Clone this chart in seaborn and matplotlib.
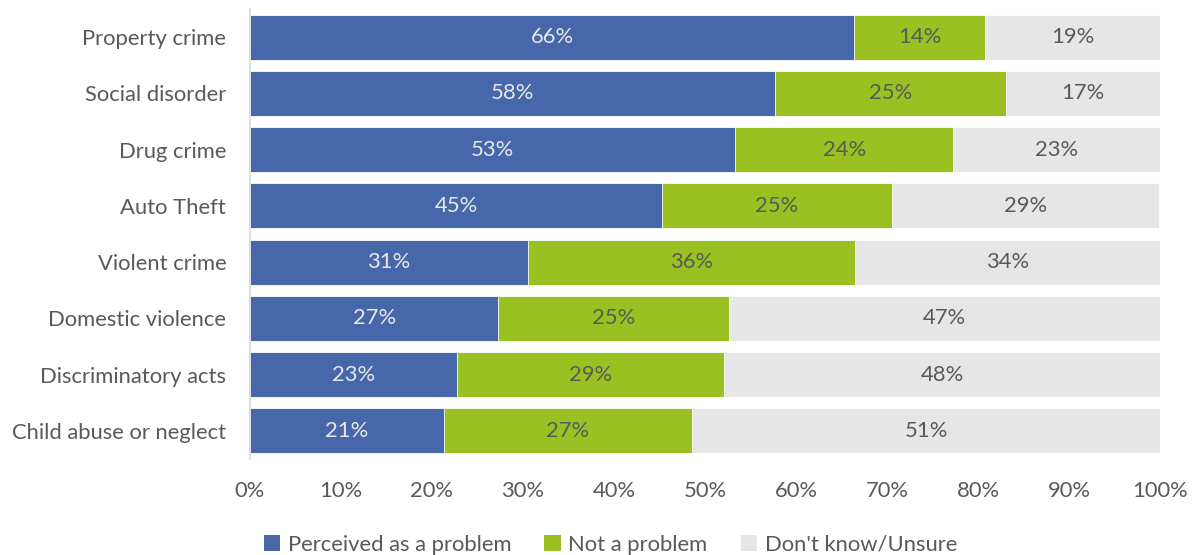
import matplotlib
matplotlib.use("Agg")
import matplotlib.pyplot as plt
import seaborn as sns
import pandas as pd
import numpy as np
from matplotlib.patches import Patch

categories = ["Property crime", "Social disorder", "Drug crime", "Auto Theft",
              "Violent crime", "Domestic violence", "Discriminatory acts",
              "Child abuse or neglect"]
problem = [66.4, 57.7, 53.3, 45.3, 30.6, 27.3, 22.7, 21.3]
not_problem = [14.4, 25.4, 24.0, 25.2, 35.9, 25.3, 29.4, 27.3]
unsure = [19.2, 16.9, 22.7, 29.4, 33.6, 47.4, 47.9, 51.4]
series_names = ["Perceived as a problem", "Not a problem", "Don't know/Unsure"]
x_ticks = [0, 10, 20, 30, 40, 50, 60, 70, 80, 90, 100]
x_tick_labels = ["0%", "10%", "20%", "30%", "40%", "50%", "60%", "70%", "80%", "90%", "100%"]

colors = ["#4667A9", "#9AC121", "#E6E6E6"]
text_colors = ["#E8E8E8", "#595959", "#595959"]

sns.set_theme(style="white")
plt.rcParams["font.family"] = ["Lato", "DejaVu Sans"]

df = pd.DataFrame({"cat": categories, "p": problem, "n": not_problem, "u": unsure})
df["c1"] = df["p"]
df["c2"] = df["p"] + df["n"]
df["c3"] = df["p"] + df["n"] + df["u"]

fig = plt.figure(figsize=(11.92, 5.55), dpi=100)
ax = fig.add_axes([0.2097, 0.173, 0.7635, 0.811])

for col, color in zip(["c3", "c2", "c1"], colors[::-1]):
    sns.barplot(data=df, x=col, y="cat", orient="h", color=color, width=0.8,
                saturation=1, ax=ax, edgecolor="white", linewidth=0.6)

fs = 15.8
segs = [df["p"].values, df["n"].values, df["u"].values]
starts = [np.zeros(len(df)), df["p"].values, (df["p"] + df["n"]).values]
for seg, st, tc in zip(segs, starts, text_colors):
    for i, (v, s) in enumerate(zip(seg, st)):
        ax.text(s + v / 2, i, f"{v:.0f}%", ha="center", va="center",
                color=tc, fontsize=fs)

ax.set_xlim(0, 100)
ax.set_xticks(x_ticks)
ax.set_xticklabels(x_tick_labels)
ax.set_xlabel("")
ax.set_ylabel("")
ax.tick_params(axis="x", labelsize=fs, colors="#595959", length=0, pad=16)
ax.tick_params(axis="y", labelsize=fs, colors="#595959", length=0, pad=17)
for sp in ["top", "right", "bottom"]:
    ax.spines[sp].set_visible(False)
ax.spines["left"].set_color("#D9D9D9")
ax.spines["left"].set_linewidth(1.2)

handles = [Patch(facecolor=c, edgecolor="none") for c in colors]
fig.legend(handles, series_names, loc="lower center", bbox_to_anchor=(0.512, -0.035),
           ncol=3, frameon=False, fontsize=fs, handlelength=0.75, handleheight=0.75,
           handletextpad=0.35, columnspacing=1.5, labelcolor="#595959")

fig.savefig("out.png", dpi=100)
